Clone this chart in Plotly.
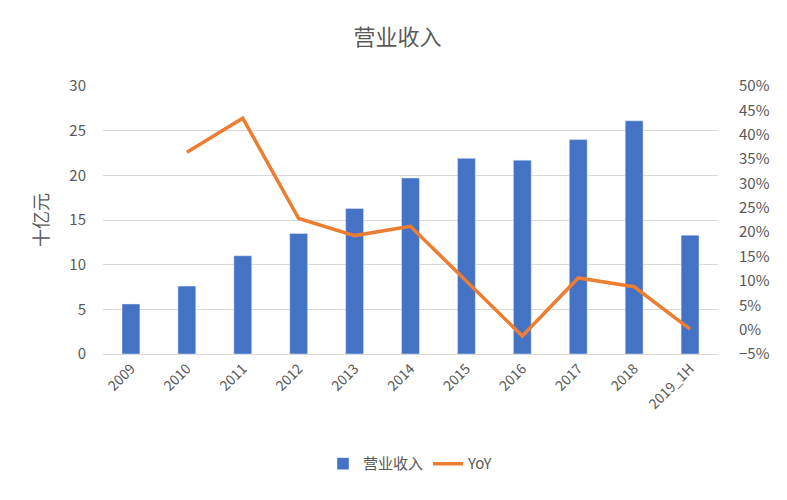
import plotly.graph_objects as go

years = ['2009', '2010', '2011', '2012', '2013', '2014', '2015', '2016', '2017', '2018', '2019_1H']
revenue = [5.6, 7.6, 11.0, 13.5, 16.3, 19.7, 21.9, 21.7, 24.0, 26.1, 13.3]
yoy = [None, 0.364, 0.434, 0.228, 0.193, 0.212, 0.100, -0.013, 0.106, 0.088, 0.001]

gray = '#595959'
fnt = 'Noto Sans CJK SC'

fig = go.Figure()
fig.add_trace(go.Bar(x=years, y=revenue, name='营业收入', marker_color='#4472C4',
                     width=0.32))
fig.add_trace(go.Scatter(x=years, y=yoy, name='YoY', yaxis='y2', mode='lines',
                         line=dict(color='#ED7D31', width=3.5)))

# page body has an 8px margin, so the figure is a bit smaller than the window
fig.update_layout(
    width=779, height=492,
    margin=dict(l=95, r=69, t=78, b=146),
    paper_bgcolor='white', plot_bgcolor='white',
    font=dict(family=fnt, color=gray, size=14),
    title=dict(text='营业收入', x=0.5, xanchor='center', y=0.94, yanchor='middle',
               font=dict(size=22, color=gray)),
    xaxis=dict(tickangle=-45, showgrid=False, showline=True, linecolor='#D9D9D9',
               tickfont=dict(size=14, color=gray)),
    yaxis=dict(range=[0, 30], dtick=5, gridcolor='#D9D9D9', zeroline=False,
               ticklabelstandoff=16,
               title=dict(text='十亿元', font=dict(size=18, color=gray), standoff=16),
               tickfont=dict(size=15, color=gray)),
    yaxis2=dict(range=[-0.05, 0.5], dtick=0.05, tickformat='.0%', overlaying='y',
                side='right', showgrid=False, zeroline=False, ticklabelstandoff=20,
                tickfont=dict(size=15, color=gray)),
    legend=dict(orientation='h', x=0.5, xanchor='center', y=-0.41, yanchor='middle',
                font=dict(size=15, color=gray)),
)

fig.write_html("out.html")
